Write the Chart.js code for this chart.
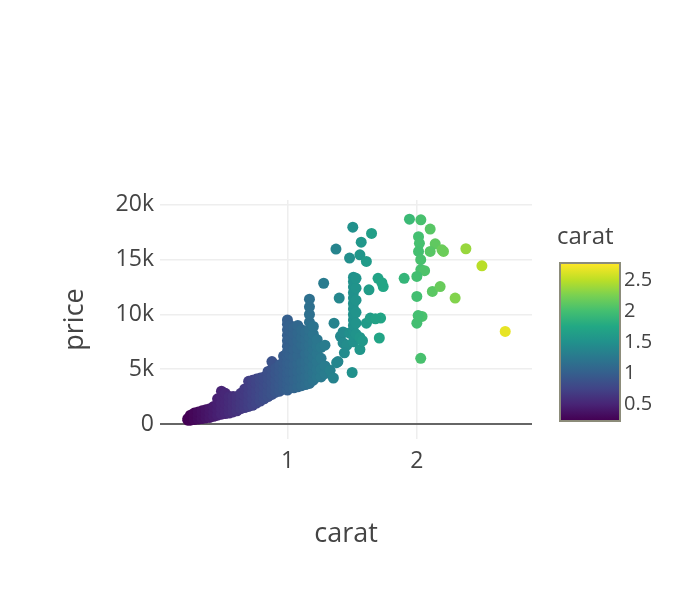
<!DOCTYPE html>
<html>
<head>
<meta charset="utf-8">
<script src="https://cdn.jsdelivr.net/npm/chart.js@4.4.1/dist/chart.umd.min.js"></script>
<style>
  html, body { margin: 0; padding: 0; background: #fff; }
  #wrap { width: 700px; height: 600px; }
</style>
</head>
<body>
<div id="wrap"><canvas id="chart"></canvas></div>
<script>
// diamonds sample: carat vs price
const carat = [
  0.23, 0.23, 0.25, 0.25, 0.25, 0.28, 0.28, 0.28, 0.31, 0.31, 0.31,
  0.34, 0.34, 0.34, 0.37, 0.37, 0.37, 0.40, 0.40, 0.40, 0.43, 0.43, 0.43,
  0.46, 0.46, 0.46, 0.46,
  0.49, 0.49, 0.49, 0.49, 0.49,
  0.52, 0.52, 0.52, 0.52, 0.52,
  0.55, 0.55, 0.55, 0.55,
  0.58, 0.58, 0.58, 0.58,
  0.61, 0.61, 0.61, 0.61,
  0.64, 0.64, 0.64, 0.64,
  0.67, 0.67, 0.67, 0.67,
  0.70, 0.70, 0.70, 0.70, 0.70,
  0.73, 0.73, 0.73, 0.73, 0.73,
  0.76, 0.76, 0.76, 0.76, 0.76,
  0.79, 0.79, 0.79, 0.79, 0.79,
  0.82, 0.82, 0.82, 0.82, 0.82,
  0.85, 0.85, 0.85, 0.85, 0.85,
  0.88, 0.88, 0.88, 0.88, 0.88, 0.88,
  0.91, 0.91, 0.91, 0.91, 0.91,
  0.94, 0.94, 0.94, 0.94, 0.94,
  0.97, 0.97, 0.97, 0.97, 0.97, 0.97,
  1.00, 1.00, 1.00, 1.00, 1.00, 1.00, 1.00, 1.00, 1.00, 1.00, 1.00, 1.00, 1.00, 1.00,
  1.02, 1.02, 1.02, 1.02, 1.02, 1.02, 1.02, 1.02, 1.02,
  1.05, 1.05, 1.05, 1.05, 1.05, 1.05, 1.05, 1.05, 1.05,
  1.08, 1.08, 1.08, 1.08, 1.08, 1.08, 1.08, 1.08, 1.08,
  1.11, 1.11, 1.11, 1.11, 1.11, 1.11, 1.11,
  1.14, 1.14, 1.14, 1.14, 1.14, 1.14, 1.14, 1.14,
  1.17, 1.17, 1.17, 1.17, 1.17, 1.17, 1.17, 1.17, 1.17, 1.17, 1.17, 1.17,
  1.20, 1.20, 1.20, 1.20, 1.20, 1.20, 1.20, 1.20,
  1.23, 1.23, 1.23, 1.23, 1.23, 1.23,
  1.26, 1.26, 1.26, 1.26,
  1.29, 1.29, 1.29,
  1.33, 1.355,
  // 1.3 - 1.8 carat
  1.28, 1.36, 1.375, 1.39, 1.38, 1.40, 1.41, 1.43, 1.43, 1.46, 1.44, 1.50, 1.505, 1.48, 1.48,
  1.51, 1.51, 1.51, 1.51, 1.51, 1.51, 1.51, 1.51, 1.51, 1.51, 1.51, 1.51, 1.51,
  1.53, 1.53, 1.53, 1.53, 1.53, 1.53,
  1.56, 1.56, 1.56, 1.57, 1.58, 1.61, 1.61, 1.63, 1.64, 1.65, 1.70, 1.72, 1.71, 1.74, 1.73, 1.68,
  // 1.9 carat and up
  1.943, 2.031, 2.103, 2.013, 2.02, 2.142, 2.206, 2.103, 2.013, 2.03, 2.031, 2.06, 2.0,
  1.902, 2.0, 2.04, 2.0, 2.01, 2.03, 2.12, 2.18, 2.296, 2.379, 2.503, 2.683, 2.194
];
const price = [
  350, 500, 350, 600, 800, 400, 750, 1000, 450, 800, 1100,
  500, 900, 1200, 550, 950, 1300, 600, 1000, 1400, 700, 1100, 1600,
  800, 1300, 1800, 2300,
  900, 1400, 1900, 2500, 3000,
  950, 1400, 1900, 2400, 2800,
  1000, 1500, 2000, 2500,
  1100, 1600, 2100, 2500,
  1200, 1700, 2200, 2500,
  1400, 1900, 2400, 2800,
  1500, 2000, 2600, 3200,
  1600, 2100, 2700, 3300, 3900,
  1700, 2300, 2900, 3500, 4000,
  1900, 2500, 3100, 3700, 4100,
  2100, 2600, 3200, 3800, 4200,
  2300, 2800, 3400, 4000, 4300,
  2500, 3000, 3600, 4200, 4800,
  2700, 3200, 3800, 4400, 5000, 5700,
  2900, 3400, 4000, 4600, 5100,
  3000, 3600, 4200, 4800, 5400,
  3200, 3800, 4400, 5000, 5600, 6200,
  3100, 3600, 4100, 4600, 5100, 5600, 6100, 6600, 7100, 7600, 8100, 8600, 9100, 9500,
  3300, 4000, 4800, 5500, 6300, 7000, 7800, 8500, 9000,
  3300, 4000, 4700, 5400, 6100, 6800, 7500, 8200, 8800,
  3400, 4100, 4800, 5500, 6200, 6900, 7600, 8300, 9000,
  3500, 4200, 4900, 5600, 7200, 7900, 8600,
  3600, 4300, 5000, 5700, 6400, 7100, 7800, 8400,
  3700, 4400, 5100, 5800, 6500, 7200, 7900, 8600, 9300, 10000, 10700, 11400,
  4000, 4700, 5400, 6100, 6800, 7500, 8200, 8900,
  4300, 5000, 5700, 6400, 7100, 7700,
  4300, 5000, 6000, 7000,
  4600, 5300, 7200,
  4900, 4200,
  12850, 9200, 15970, 5700, 5600, 11500, 8000, 7400, 8400, 7200, 6500, 4700, 17970, 15150, 8300,
  7500, 8000, 8500, 9000, 9500, 10000, 10500, 11000, 11500, 12000, 12500, 13000, 13400,
  8200, 9200, 10200, 11300, 12400, 13300,
  15450, 7900, 6800, 16600, 7600, 14840, 9200, 12250, 9670, 17400, 13300, 9670, 7850, 12550, 12900, 9600,
  18700, 18640, 17800, 17100, 16500, 16450, 15750, 15750, 15750, 15000, 14100, 14000, 13470,
  13300, 11650, 9820, 9200, 9900, 6000, 12100, 12550, 11500, 16000, 14440, 8450, 15900
];

const xTicks = [1, 2];
const yTicks = [0, 5000, 10000, 15000, 20000];
const colorbarTicks = [0.5, 1, 1.5, 2, 2.5];
const cMin = 0.24, cMax = 2.77;

const viridis = ["#440154", "#482475", "#414487", "#355f8d", "#2a788e", "#21918c",
                 "#22a884", "#44bf70", "#7ad151", "#bddf26", "#fde725"];

function hexRgb(h) {
  return [parseInt(h.slice(1, 3), 16), parseInt(h.slice(3, 5), 16), parseInt(h.slice(5, 7), 16)];
}

function colorFor(v) {
  let t = (v - cMin) / (cMax - cMin);
  t = Math.max(0, Math.min(1, t));
  const pos = t * (viridis.length - 1);
  const i = Math.min(Math.floor(pos), viridis.length - 2);
  const f = pos - i;
  const a = hexRgb(viridis[i]), b = hexRgb(viridis[i + 1]);
  const c = a.map((x, k) => Math.round(x + (b[k] - x) * f));
  return `rgb(${c[0]},${c[1]},${c[2]})`;
}

// colorbar drawn next to the plot, like plotly's
const colorbar = {
  id: "colorbar",
  afterDraw(chart) {
    const ctx = chart.ctx;
    const x = 561, w = 58, top = 264, bottom = 420;
    const g = ctx.createLinearGradient(0, bottom, 0, top);
    viridis.forEach((c, i) => g.addColorStop(i / (viridis.length - 1), c));
    ctx.save();
    ctx.fillStyle = g;
    ctx.fillRect(x, top, w, bottom - top);
    ctx.strokeStyle = "#8c8c7a";
    ctx.lineWidth = 2;
    ctx.strokeRect(x - 1, top - 1, w + 2, bottom - top + 2);

    ctx.fillStyle = "#444";
    ctx.font = "20px 'Open Sans'";
    ctx.textAlign = "left";
    ctx.textBaseline = "middle";
    colorbarTicks.forEach(v => {
      const y = bottom - (v - cMin) / (cMax - cMin) * (bottom - top);
      ctx.fillText(String(v), x + w + 5, y);
    });
    ctx.font = "24px 'Open Sans'";
    ctx.fillText("carat", 557, 237);
    ctx.restore();
  }
};

Chart.defaults.font.family = "'Open Sans', sans-serif";
Chart.defaults.color = "#444";

new Chart(document.getElementById("chart").getContext("2d"), {
  type: "scatter",
  data: {
    datasets: [{
      data: carat.map((c, i) => ({ x: c, y: price[i] })),
      backgroundColor: carat.map(colorFor),
      borderWidth: 0,
      pointRadius: 5.5,
      pointHoverRadius: 5.5,
    }],
  },
  options: {
    responsive: true,
    maintainAspectRatio: false,
    animation: false,
    events: [],
    layout: { padding: { top: 200, right: 168, left: 0, bottom: 0 } },
    plugins: { legend: { display: false }, tooltip: { enabled: false } },
    scales: {
      x: {
        type: "linear",
        min: 0.015,
        max: 2.89,
        afterBuildTicks: (s) => { s.ticks = xTicks.map(v => ({ value: v })); },
        afterFit: (s) => { s.height = 161; },
        ticks: { font: { size: 23 }, padding: 9, color: "#444" },
        grid: { color: "#eeeeee", lineWidth: 1.5, drawTicks: false },
        border: { display: false },
        title: { display: true, text: "carat", font: { size: 27 }, color: "#444", padding: { top: 0, bottom: 49 } },
      },
      y: {
        type: "linear",
        min: -1370,
        max: 20450,
        afterBuildTicks: (s) => { s.ticks = yTicks.map(v => ({ value: v })); },
        afterFit: (s) => { s.width = 160; },
        ticks: {
          font: { size: 23 },
          padding: 6,
          color: "#444",
          callback: (v) => (v === 0 ? "0" : v / 1000 + "k"),
        },
        grid: {
          color: (c) => (c.tick && c.tick.value === 0 ? "#666666" : "#eeeeee"),
          lineWidth: (c) => (c.tick && c.tick.value === 0 ? 2 : 1.5),
          drawTicks: false,
        },
        border: { display: false },
        title: { display: true, text: "price", font: { size: 27 }, color: "#444", padding: { top: 59, bottom: 0 } },
      },
    },
  },
  plugins: [colorbar],
});
</script>
</body>
</html>
